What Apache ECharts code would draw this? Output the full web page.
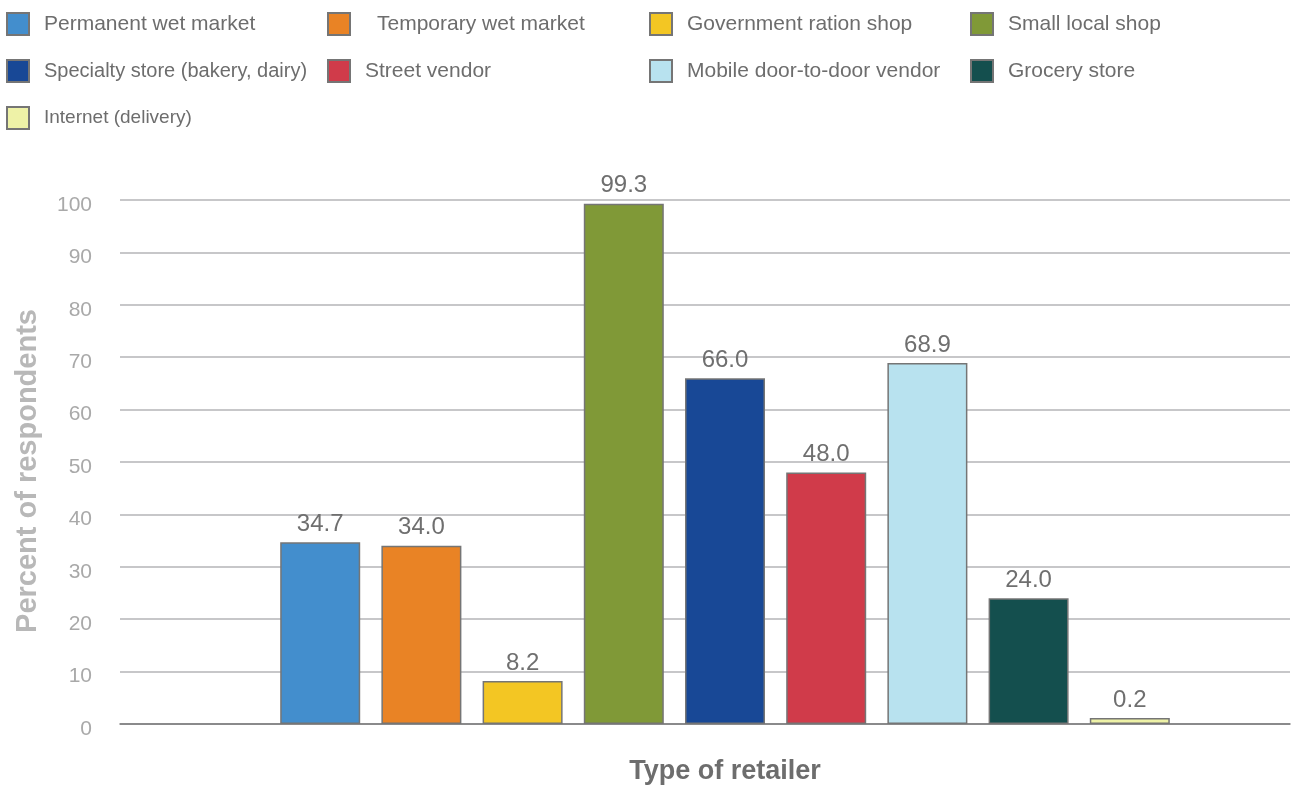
<!DOCTYPE html>
<html>
<head>
<meta charset="utf-8">
<title>Type of retailer</title>
<script src="https://cdn.jsdelivr.net/npm/echarts@6/dist/echarts.min.js"></script>
<style>
  html, body { margin: 0; padding: 0; background: #ffffff; }
  #chart { width: 1292px; height: 787px; }
</style>
</head>
<body>
<div id="chart"></div>
<script>
// Retailer types and share of respondents using each (%)
const retailers = [
  'Permanent wet market',
  'Temporary wet market',
  'Government ration shop',
  'Small local shop',
  'Specialty store (bakery, dairy)',
  'Street vendor',
  'Mobile door-to-door vendor',
  'Grocery store',
  'Internet (delivery)'
];
const percents = [34.7, 34.0, 8.2, 99.3, 66.0, 48.0, 68.9, 24.0, 0.2];
const barColors = [
  '#438ecd', '#e98325', '#f3c623', '#809937',
  '#184896', '#d03b4a', '#b8e2ef', '#144f4e', '#eef2a7'
];
const yMin = 0, yMax = 100, yStep = 10;

const FONT = '"Liberation Sans", Arial, Helvetica, sans-serif';
const chart = echarts.init(document.getElementById('chart'));

// Bars: one series per retailer, grouped on a single category
const series = retailers.map((name, i) => ({
  type: 'bar',
  name: name,
  xAxisIndex: 1,
  yAxisIndex: 1,
  data: [percents[i]],
  barWidth: 80,
  barGap: '26.5%',
  barMinHeight: 6,
  itemStyle: { color: barColors[i], borderColor: '#757575', borderWidth: 1.5 },
  label: {
    show: true,
    position: 'top',
    distance: 6,
    color: '#6f6f6f',
    fontSize: 24,
    fontFamily: FONT,
    formatter: p => p.value.toFixed(1)
  },
  emphasis: { disabled: true }
}));

// Legend laid out as four columns of rows
const colLeft = [6, 327, 649, 970];
const legends = colLeft.map((left, c) => {
  const items = [];
  for (let i = c; i < retailers.length; i += 4) {
    const item = { name: retailers[i] };
    if (i === 1) item.textStyle = { padding: [0, 0, 0, 22] };
    if (i === 4 || i === 8) item.textStyle = { fontSize: i === 8 ? 19 : 20 };
    items.push(item);
  }
  return {
    orient: 'vertical',
    left: left,
    top: 12,
    padding: 0,
    itemWidth: 22,
    itemHeight: 22,
    itemGap: 23,
    icon: 'rect',
    selectedMode: false,
    data: items,
    textStyle: {
      color: '#6d6d6d',
      fontSize: 21,
      fontFamily: FONT,
      padding: [0, 0, 0, 10]
    }
  };
});

chart.setOption({
  animation: false,
  backgroundColor: '#ffffff',
  legend: legends,
  grid: [
    { left: 120, right: 2, top: 200, bottom: 63, outerBoundsMode: 'none', containLabel: false },
    { left: 270, right: 112, top: 200, bottom: 63, outerBoundsMode: 'none', containLabel: false }
  ],
  xAxis: [
    {
      type: 'category',
      gridIndex: 0,
      data: [''],
      axisLine: { show: true, lineStyle: { color: '#777777', width: 1.5 } },
      axisTick: { show: false },
      axisLabel: { show: false }
    },
    {
      type: 'category',
      gridIndex: 1,
      data: [''],
      axisLine: { show: false },
      axisTick: { show: false },
      axisLabel: { show: false },
      name: 'Type of retailer',
      nameLocation: 'middle',
      nameGap: 34,
      nameTextStyle: { color: '#6d6d6d', fontSize: 27, fontWeight: 'bold', fontFamily: FONT }
    }
  ],
  yAxis: [
    {
      type: 'value',
      gridIndex: 0,
      min: yMin,
      max: yMax,
      interval: yStep,
      axisLine: { show: false },
      axisTick: { show: false },
      axisLabel: {
        margin: 28,
        formatter: v => '{t|' + v + '}',
        rich: {
          t: { color: '#a9a9a9', fontSize: 21, fontFamily: FONT, padding: [10, 0, 0, 0] }
        }
      },
      splitLine: { lineStyle: { color: '#b4b4b7', width: 1.5 } },
      name: 'Percent of respondents',
      nameLocation: 'middle',
      nameGap: 78,
      nameTextStyle: {
        color: '#b8b8b8', fontSize: 29, fontWeight: 'bold', fontFamily: FONT,
        padding: [0, 18, 0, 0]
      }
    },
    {
      type: 'value',
      gridIndex: 1,
      min: yMin,
      max: yMax,
      show: false
    }
  ],
  series: series
});
</script>
</body>
</html>
